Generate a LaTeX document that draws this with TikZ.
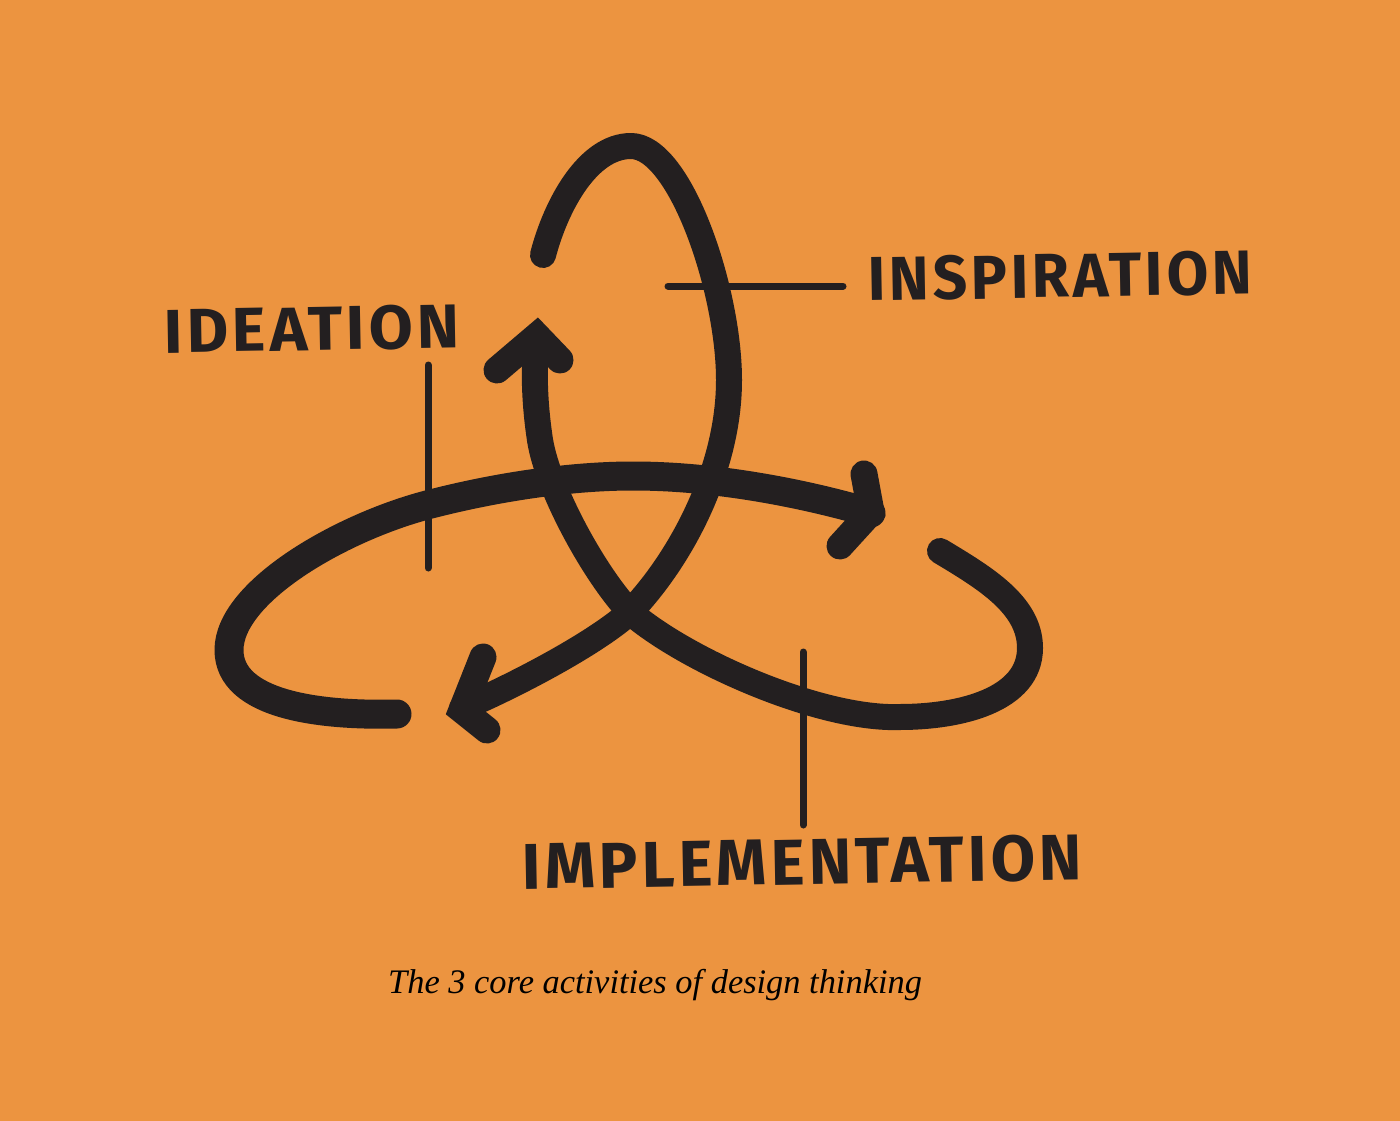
\documentclass[tikz,border=0pt]{standalone}
\usepackage{fontspec}
\usepackage{graphicx}
\setmainfont{Liberation Serif}
\newfontfamily\handfont[LetterSpace=6]{Fira Sans}
\definecolor{bg}{HTML}{EC9440}
\definecolor{ink}{HTML}{231F20}
\tikzset{
  brushstroke/.style={draw=ink, line cap=round, line join=round},
  chevron/.style={draw=ink, line width=27pt, line join=miter, miter limit=10, line cap=round},
  leader/.style={draw=ink, line width=7pt, line cap=round},
  label/.style={inner sep=0pt, text=ink, font=\handfont\bfseries, rotate=1},
}
\begin{document}
\begin{tikzpicture}[x=1pt, y=-1pt]
\useasboundingbox (0,0) rectangle (1400,1121);
\fill[bg] (0,0) rectangle (1400,1121);
% stroke A: vertical loop (inspiration)
\draw[brushstroke, line width=26pt]
  (543,255) .. controls (556,205) and (588,146) .. (631,146)
            .. controls (680,146) and (729,290) .. (729,380)
            .. controls (729,470) and (680,560) .. (630,612)
            .. controls (595,644) and (510,688) .. (462,708);
% stroke B: left loop + top arc
\draw[brushstroke, line width=29pt]
  (397,714) .. controls (320,716) and (229,705) .. (229,650)
            .. controls (229,592) and (340,528) .. (427,505)
            .. controls (496,487) and (570,476) .. (633,476)
            .. controls (720,476) and (810,495) .. (871,513);
% stroke C: right loop + upward arm
\draw[brushstroke, line width=26pt]
  (940,551) .. controls (985,578) and (1030,605) .. (1030,648)
            .. controls (1030,700) and (960,717) .. (900,717)
            .. controls (820,720) and (685,660) .. (630,612)
            .. controls (595,575) and (548,490) .. (540,440)
            .. controls (534,400) and (534,370) .. (536,338);
% arrowheads
\coordinate (hAtip) at (462,710);
\coordinate (hAb1) at (483,657);
\coordinate (hAb2) at (487,730);
\draw[chevron] (hAb1) -- (hAtip) -- (hAb2);
\coordinate (hBtip) at (871,512);
\coordinate (hBb1) at (864,474);
\coordinate (hBb2) at (840,546);
\draw[chevron] (hBb1) -- (hBtip) -- (hBb2);
\coordinate (hCtip) at (537,336);
\coordinate (hCb1) at (497,370);
\coordinate (hCb2) at (560,360);
\draw[chevron] (hCb1) -- (hCtip) -- (hCb2);
% leader lines
\coordinate (l1a) at (668,286); \coordinate (l1b) at (843,286);
\coordinate (l2a) at (428,365); \coordinate (l2b) at (428,568);
\coordinate (l3a) at (803,652); \coordinate (l3b) at (803,825);
\draw[leader] (l1a) -- (l1b);
\draw[leader] (l2a) -- (l2b);
\draw[leader] (l3a) -- (l3b);
% labels
\node[label] (ideation) at (312,329) {\resizebox{295pt}{44pt}{IDEATION}};
\node[label] (inspiration) at (1060,276) {\resizebox{384pt}{44pt}{INSPIRATION}};
\node[label] (implementation) at (802,862) {\resizebox{560pt}{46pt}{IMPLEMENTATION}};
\node[inner sep=0pt, anchor=base west, text=black, font=\itshape\fontsize{34.4}{40}\selectfont] (caption) at (388,993) {The 3 core activities of design thinking};
\end{tikzpicture}
\end{document}
